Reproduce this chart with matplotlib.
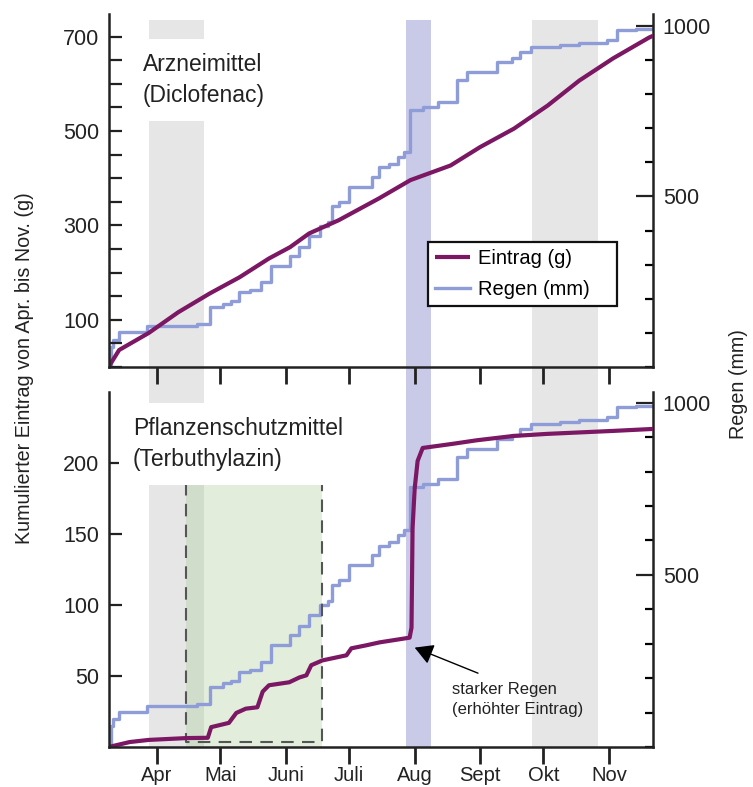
import numpy as np
import matplotlib.pyplot as plt
from matplotlib.patches import Rectangle
from matplotlib.ticker import FixedLocator, MultipleLocator

plt.rcParams['font.family'] = ['Liberation Sans', 'DejaVu Sans']

# x axis: day of year
month_days = [91, 121, 152, 182, 213, 244, 274, 305]
month_labels = ['Apr', 'Mai', 'Juni', 'Juli', 'Aug', 'Sept', 'Okt', 'Nov']
x_start, x_end = 68.2, 325.9

# cumulative rain (mm), step function
rain_day = [68, 69, 70, 73, 86, 110, 116, 122, 126, 130, 135, 140, 145, 154,
            158, 163, 168, 172, 174, 177, 182, 193, 196, 201, 205, 208, 211,
            217, 224, 233, 238, 252, 259, 263, 268, 282, 291, 304, 309, 318, 326]
rain_mm = [0, 60, 80, 102, 120, 126, 175, 185, 193, 219, 225, 248, 295, 325,
           351, 383, 412, 424, 471, 485, 529, 558, 585, 594, 617, 629, 754,
           763, 778, 842, 866, 895, 906, 924, 939, 944, 950, 959, 988, 991, 991]

# cumulative load Diclofenac (g)
dic_day = [68, 73, 87, 101, 116, 130, 144, 154, 163, 177, 196, 211, 230, 244,
           260, 276, 291, 307, 324, 326]
dic_g = [0, 36, 72, 116, 156, 190, 230, 254, 283, 311, 357, 396, 427, 466,
         505, 554, 607, 654, 698, 702]

# cumulative load Terbuthylazin (g)
ter_day = [68, 78, 87, 105, 115, 116.6, 125, 128.5, 133, 138.5, 141, 144,
           153.6, 158.4, 161.7, 164, 169.3, 180.7, 183, 190, 196.4, 210.6,
           211.5, 212, 213, 214.4, 216.8, 231, 242.4, 259.5, 275.6, 307, 326]
ter_g = [0, 3.5, 5, 6.3, 6.5, 14, 17, 24, 27, 28, 39, 43.5, 45.6, 49, 50.5,
         57.6, 61, 64.6, 69.5, 71.6, 73.7, 77, 84, 154, 182, 201.5, 210.6,
         213.5, 216, 219, 220.5, 222.6, 224]

dry_periods = [(87.2, 113.3), (268.5, 299.8)]
storm_period = (208.7, 220.6)
# application window Terbuthylazin: day from, day to, g bottom, g top
appl = (104.8, 169.3, 3.5, 186.0)
arrow_tip = (213, 70)
arrow_tail = (243, 52)

PURPLE = '#7B1763'
BLUE = '#8E9CD8'
GRAY = '#E6E6E6'
LAV = '#C9CAE7'
DARK = '#222222'
FS = 15.5

fig = plt.figure(figsize=(7.53, 7.87), dpi=100)
L = 109 / 753.0
W = (653 - 109) / 753.0

# shaded periods run through both panels
bg = fig.add_axes([L, 0.0496, W, 0.925], zorder=-1)
bg.set_xlim(x_start, x_end)
for a, b in dry_periods:
    bg.axvspan(a, b, color=GRAY, lw=0)
bg.axvspan(storm_period[0], storm_period[1], color=LAV, lw=0)
bg.axis('off')


def panel(rect, ylim_g, ylim_mm, g_major, g_minor, day, g):
    ax = fig.add_axes(rect)
    axr = ax.twinx()
    ax.set_zorder(2)
    axr.set_zorder(1)
    ax.patch.set_visible(False)
    axr.patch.set_visible(False)
    line_g, = ax.plot(day, g, color=PURPLE, lw=3.0, solid_capstyle='butt')
    line_r, = axr.plot(rain_day, rain_mm, color=BLUE, lw=2.4,
                       drawstyle='steps-post')
    ax.set_xlim(x_start, x_end)
    ax.set_ylim(*ylim_g)
    axr.set_ylim(*ylim_mm)
    ax.yaxis.set_major_locator(FixedLocator(g_major))
    if g_minor:
        ax.yaxis.set_minor_locator(MultipleLocator(g_minor))
    axr.yaxis.set_major_locator(FixedLocator([500, 1000]))
    axr.yaxis.set_minor_locator(MultipleLocator(100))
    ax.set_xticks(month_days)
    ax.set_xticklabels(month_labels)
    ax.tick_params(axis='y', which='both', direction='in', length=9,
                   width=1.6, pad=7, labelsize=FS, colors=DARK)
    ax.tick_params(axis='x', direction='out', length=12, width=2, pad=2,
                   labelsize=14.5, colors=DARK)
    axr.tick_params(axis='y', which='major', direction='in', length=12,
                    width=1.6, pad=7, labelsize=FS, colors=DARK)
    axr.tick_params(axis='y', which='minor', direction='in', length=6,
                    width=1.6)
    for s in ['top', 'right']:
        ax.spines[s].set_visible(False)
    for s in ['top', 'left', 'bottom']:
        axr.spines[s].set_visible(False)
    for s in ['left', 'bottom']:
        ax.spines[s].set_linewidth(1.8)
        ax.spines[s].set_color(DARK)
    axr.spines['right'].set_linewidth(1.8)
    axr.spines['right'].set_color(DARK)
    return ax, axr, line_g, line_r


top, top_r, l1, l2 = panel([L, 0.5337, W, 0.4485], (0, 748), (0, 1035),
                           [100, 300, 500, 700], 50, dic_day, dic_g)
top.tick_params(axis='x', labelbottom=False)

bot, bot_r, _, _ = panel([L, 0.0508, W, 0.4511], (0, 250), (0, 1031),
                         [50, 100, 150, 200], None, ter_day, ter_g)

# application window (green) under the lines
x0, x1, y0, y1 = appl
bot_r.add_patch(Rectangle((x0, 0), x1 - x0, y1, transform=bot.transData,
                          fc=(172 / 255, 206 / 255, 155 / 255), alpha=0.35,
                          lw=0, zorder=0))
bot.plot([x0, x0, x1, x1], [y1, y0, y0, y1], color='#555555', lw=1.5,
         ls=(0, (6, 4)), zorder=1)

top.text(0.0625, 0.89, 'Arzneimittel\n(Diclofenac)', transform=top.transAxes,
         fontsize=16.5, ha='left', va='top', linespacing=1.45, color=DARK,
         bbox=dict(boxstyle='square,pad=0.6', fc='white', ec='none'),
         zorder=5)
bot.text(0.044, 0.93, 'Pflanzenschutzmittel\n(Terbuthylazin)',
         transform=bot.transAxes, fontsize=16.5, ha='left', va='top',
         linespacing=1.45, color=DARK,
         bbox=dict(boxstyle='square,pad=0.6', fc='white', ec='none'),
         zorder=5)

bot.annotate('', xy=arrow_tip, xytext=arrow_tail,
             arrowprops=dict(arrowstyle='-|>,head_length=0.8,head_width=0.45',
                             color='black', lw=1, mutation_scale=14,
                             shrinkA=0, shrinkB=0))
bot.text(0.6305, 0.183, 'starker Regen\n(erhöhter Eintrag)',
         transform=bot.transAxes, fontsize=12, ha='left', va='top',
         linespacing=1.4, color=DARK)

leg = top.legend([l1, l2], ['Eintrag (g)', 'Regen (mm)'], loc='lower left',
                 bbox_to_anchor=(0.5864, 0.1728, 0.3474, 0.215), mode='expand',
                 borderaxespad=0, fontsize=14.5, handlelength=1.75,
                 handletextpad=0.4, borderpad=0.35, labelspacing=0.6,
                 fancybox=False, edgecolor='#111111', framealpha=1)
leg.get_frame().set_linewidth(1.6)

fig.text(0.032, 0.532, 'Kumulierter Eintrag von Apr. bis Nov. (g)',
         rotation=90, ha='center', va='center', fontsize=14.2, color=DARK)
fig.text(0.981, 0.512, 'Regen (mm)', rotation=90, ha='center', va='center',
         fontsize=14.2, color=DARK)

fig.savefig('out.png', dpi=100, facecolor='white')
